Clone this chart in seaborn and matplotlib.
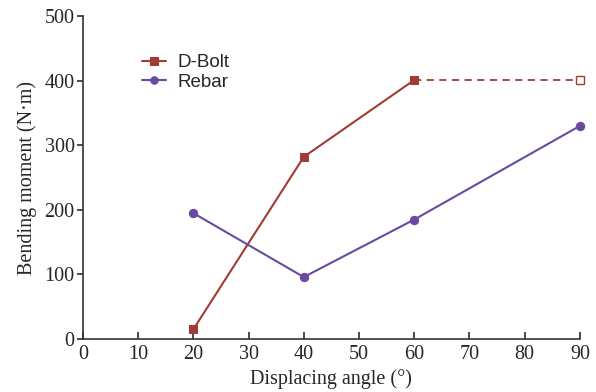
import matplotlib
matplotlib.use("Agg")
import matplotlib.pyplot as plt
import seaborn as sns
import pandas as pd

angles = [20, 40, 60]
dbolt = [15, 282, 401]
ext_angles = [60, 90]
dbolt_ext = [401, 401]
rebar_angles = [20, 40, 60, 90]
rebar = [195, 96, 185, 330]

sns.set_theme(style="ticks")
plt.rcParams['font.family'] = ['Liberation Serif', 'DejaVu Serif']

c_bolt = "#A23B36"
c_rebar = "#6A4A9E"

fig = plt.figure(figsize=(5.96, 3.92), dpi=100)
ax = fig.add_axes([0.139, 0.135, 0.834, 0.824])

df_b = pd.DataFrame({"x": angles, "y": dbolt})
df_r = pd.DataFrame({"x": rebar_angles, "y": rebar})
df_e = pd.DataFrame({"x": ext_angles, "y": dbolt_ext})

sns.lineplot(data=df_b, x="x", y="y", ax=ax, color=c_bolt, marker="s", markersize=6,
             markeredgecolor=c_bolt, linewidth=1.5, label="D-Bolt")
sns.lineplot(data=df_r, x="x", y="y", ax=ax, color=c_rebar, marker="o", markersize=6,
             markeredgecolor=c_rebar, linewidth=1.5, label="Rebar")
sns.lineplot(data=df_e, x="x", y="y", ax=ax, color=c_bolt, linestyle=(0, (4, 3)),
             linewidth=1.3, legend=False)
ax.plot(ext_angles[-1:], dbolt_ext[-1:], marker="s", markersize=6, markerfacecolor="white",
        markeredgecolor=c_bolt, markeredgewidth=1.0, linestyle="none", clip_on=False, zorder=5)
for ln in ax.lines:
    ln.set_clip_on(False)

ax.set_xlim(0, 90)
ax.set_ylim(0, 500)
ax.set_xticks(range(0, 91, 10))
ax.set_yticks(range(0, 501, 100))
ax.tick_params(axis="x", direction="in", length=5, labelsize=14.5, pad=4, color="#333333")
ax.tick_params(axis="y", direction="out", length=4, labelsize=14.5, pad=2, color="#333333")
for s in ["top", "right"]:
    ax.spines[s].set_visible(False)
for s in ["left", "bottom"]:
    ax.spines[s].set_color("#333333")
    ax.spines[s].set_linewidth(1.2)

ax.set_xlabel("Displacing angle (°)", fontsize=14.5, labelpad=4)
ax.set_ylabel("Bending moment (N·m)", fontsize=14.5, labelpad=5)

leg = ax.legend(loc="upper left", bbox_to_anchor=(0.085, 0.935), frameon=False,
                prop={"family": "Liberation Sans", "size": 13.5}, handlelength=1.3,
                handletextpad=0.6, labelspacing=0.15, markerscale=0.9)

fig.savefig("out.png", dpi=100)
